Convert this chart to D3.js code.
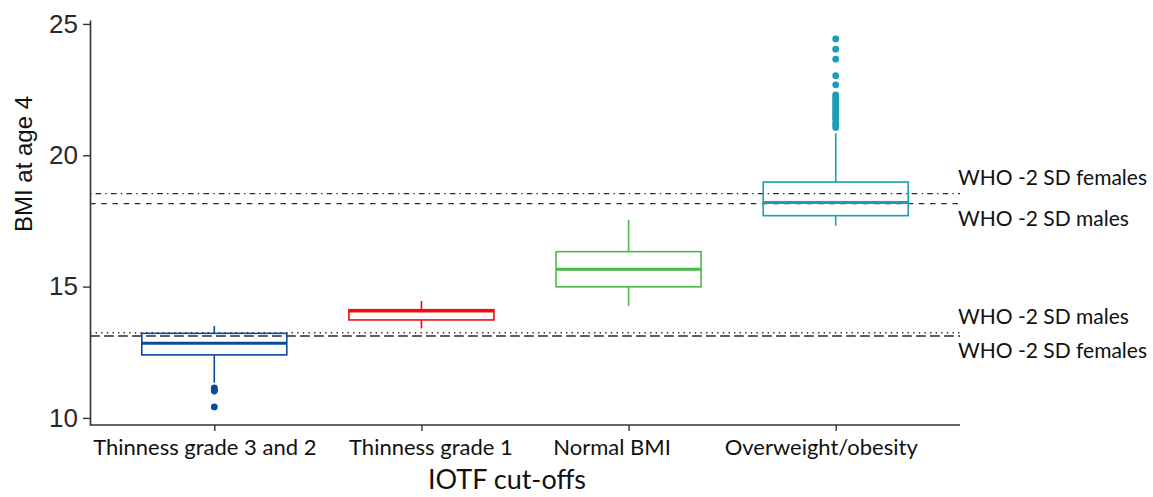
<!DOCTYPE html>
<html>
<head>
<meta charset="utf-8">
<script src="https://cdn.jsdelivr.net/npm/d3@7"></script>
<style>
  html, body { margin: 0; padding: 0; background: #fff; }
  svg { display: block; }
</style>
</head>
<body>
<svg id="chart" width="1153" height="497"></svg>
<script>
// IOTF weight-status groups
const categories = ["Thinness grade 3 and 2", "Thinness grade 1", "Normal BMI", "Overweight/obesity"];
const colors = ["#0b4a99", "#f20d0d", "#4cb848", "#1a9db5"];

// Box-plot summaries of BMI at age 4 per group
const whiskerLow  = [11.34, 13.41, 14.27, 17.32];
const q1          = [12.40, 13.73, 14.99, 17.70];
const median      = [12.84, 14.07, 15.66, 18.20];
const q3          = [13.22, 14.12, 16.33, 18.98];
const whiskerHigh = [13.50, 14.45, 17.54, 20.84];

// Outlying observations per group
const outliersThin32 = [11.14, 11.10, 11.06, 11.02, 10.42];
const outliersThin1  = [];
const outliersNormal = [];
const outliersOver   = [24.43, 24.04, 23.66, 23.03, 22.68, 22.30, 22.22, 22.14, 22.06, 21.98, 21.90,
                        21.82, 21.74, 21.66, 21.58, 21.50, 21.42, 21.36, 21.22, 21.14, 21.06];
const outliers = [outliersThin32, outliersThin1, outliersNormal, outliersOver];

// WHO -2 SD reference cut-offs
const refLines = [
  { label: "WHO -2 SD females", value: 18.54, dash: "1.4,4.2,5.6,4.2", side: "above" },
  { label: "WHO -2 SD males",   value: 18.16, dash: "5.6,5.6",         side: "below" },
  { label: "WHO -2 SD males",   value: 13.24, dash: "1.4,4.2",         side: "above" },
  { label: "WHO -2 SD females", value: 13.12, dash: "9.8,4.2",         side: "below" }
];

const yTicks = [10, 15, 20, 25];
const xTitle = "IOTF cut-offs";
const yTitle = "BMI at age 4";

const svg = d3.select("#chart");
const plotLeft = 90, plotRight = 960, plotTop = 20, plotBottom = 425;

const x = d3.scalePoint().domain(categories).range([plotLeft, plotRight]).padding(0.6);
const y = d3.scaleLinear().domain([9.73, 25.15]).range([plotBottom, plotTop]);
const boxW = x.step() * 0.7;

const calibriLike = "Lato, 'Open Sans', sans-serif";
const arialLike = "'Liberation Sans', Arial, sans-serif";

// Reference lines (drawn beneath the boxes)
const refG = svg.append("g");
refG.selectAll("line").data(refLines).join("line")
  .attr("x1", plotLeft).attr("x2", plotRight)
  .attr("y1", d => y(d.value)).attr("y2", d => y(d.value))
  .attr("stroke", "#2b2b2b").attr("stroke-width", 1.4)
  .attr("stroke-dasharray", d => d.dash);

refG.selectAll("text").data(refLines).join("text")
  .attr("x", plotRight - 2)
  .attr("y", d => y(d.value) + (d.side === "above" ? -16 : 15))
  .attr("dy", "0.35em")
  .attr("font-family", calibriLike).attr("font-size", 21)
  .attr("fill", "#111")
  .text(d => d.label);

// Boxes
const boxes = svg.append("g").selectAll("g").data(categories).join("g");

boxes.append("line")
  .attr("x1", d => x(d)).attr("x2", d => x(d))
  .attr("y1", (d, i) => y(whiskerHigh[i])).attr("y2", (d, i) => y(q3[i]))
  .attr("stroke", (d, i) => colors[i]).attr("stroke-width", 1.6);
boxes.append("line")
  .attr("x1", d => x(d)).attr("x2", d => x(d))
  .attr("y1", (d, i) => y(q1[i])).attr("y2", (d, i) => y(whiskerLow[i]))
  .attr("stroke", (d, i) => colors[i]).attr("stroke-width", 1.6);
boxes.append("rect")
  .attr("x", d => x(d) - boxW / 2).attr("width", boxW)
  .attr("y", (d, i) => y(q3[i])).attr("height", (d, i) => y(q1[i]) - y(q3[i]))
  .attr("fill", "none")
  .attr("stroke", (d, i) => colors[i]).attr("stroke-width", 1.6);
boxes.append("line")
  .attr("x1", d => x(d) - boxW / 2).attr("x2", d => x(d) + boxW / 2)
  .attr("y1", (d, i) => y(median[i])).attr("y2", (d, i) => y(median[i]))
  .attr("stroke", (d, i) => colors[i]).attr("stroke-width", 3);
boxes.selectAll("circle").data((d, i) => outliers[i].map(v => ({ c: d, v, i }))).join("circle")
  .attr("cx", d => x(d.c)).attr("cy", d => y(d.v)).attr("r", 3.4)
  .attr("fill", d => colors[d.i]);

// Axes
const yAxis = svg.append("g").attr("transform", `translate(${plotLeft},0)`)
  .call(d3.axisLeft(y).tickValues(yTicks).tickSize(7).tickPadding(5).tickSizeOuter(0));
yAxis.select(".domain").attr("stroke", "#333").attr("stroke-width", 1.6);
yAxis.selectAll(".tick line").attr("stroke", "#333").attr("stroke-width", 1.4);
yAxis.selectAll(".tick text").attr("font-family", arialLike).attr("font-size", 26).attr("fill", "#2a2a2a");

// Category labels sit slightly off-centre from their ticks
const labelShift = [-10, 9, -17, -15];
const xAxis = svg.append("g").attr("transform", `translate(0,${plotBottom})`)
  .call(d3.axisBottom(x).tickSize(6).tickPadding(8).tickSizeOuter(0));
xAxis.select(".domain").attr("stroke", "#333").attr("stroke-width", 1.6)
  .attr("d", `M${plotLeft},0H${plotRight}`);
xAxis.selectAll(".tick line").attr("stroke", "#333").attr("stroke-width", 1.4);
xAxis.selectAll(".tick text")
  .attr("dx", (d, i) => labelShift[i])
  .attr("font-family", calibriLike).attr("font-size", 22).attr("fill", "#111");

// Axis titles
svg.append("text")
  .attr("x", 507).attr("y", 489)
  .attr("text-anchor", "middle")
  .attr("font-family", calibriLike).attr("font-size", 27).attr("fill", "#111")
  .text(xTitle);

svg.append("text")
  .attr("transform", "translate(32,164) rotate(-90)")
  .attr("text-anchor", "middle")
  .attr("font-family", arialLike).attr("font-size", 24).attr("fill", "#111")
  .text(yTitle);
</script>
</body>
</html>
